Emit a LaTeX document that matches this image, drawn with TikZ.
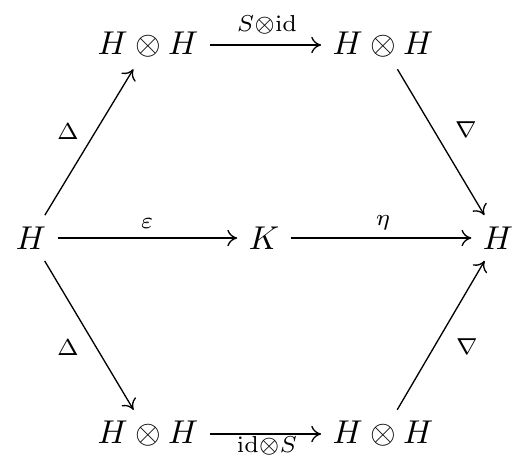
\documentclass[tikz,border=0pt]{standalone}
\usetikzlibrary{arrows.meta}
\begin{document}
\begin{tikzpicture}[x=0.303pt,y=-0.303pt,
  obj/.style={inner sep=3.3pt},
  arr/.style={draw,line width=0.4pt,-{Computer Modern Rightarrow[length=3pt,width=5pt]}},
  lab/.style={inner sep=0pt}]
\useasboundingbox (0,0) rectangle (526,465);
\node[obj] (L)  at (31,238)  {$H$};
\node[obj] (K)  at (264,238) {$K$};
\node[obj] (R)  at (498,238) {$H$};
\node[obj] (TL) at (148,45)  {$H\otimes H$};
\node[obj] (TR) at (383,45)  {$H\otimes H$};
\node[obj] (BL) at (148,434) {$H\otimes H$};
\node[obj] (BR) at (383,434) {$H\otimes H$};
\path[arr] (TL) -- (TR);
\path[arr] (BL) -- (BR);
\path[arr] (L) -- (K);
\path[arr] (K) -- (R);
\path[arr] (L) -- (TL);
\path[arr] (TR) -- (R);
\path[arr] (L) -- (BL);
\path[arr] (BR) -- (R);
\node[lab] (l1) at (267,25)  {$\scriptstyle S\otimes\mathrm{id}$};
\node[lab] (l2) at (267,446) {$\scriptstyle \mathrm{id}\otimes S$};
\node[lab] (l3) at (147,224) {$\scriptstyle \varepsilon$};
\node[lab] (l4) at (383,223) {$\scriptstyle \eta$};
\node[lab] (l5) at (68,132)  {$\scriptstyle \Delta$};
\node[lab] (l6) at (68,348)  {$\scriptstyle \Delta$};
\node[lab] (l7) at (466,130) {$\scriptstyle \nabla$};
\node[lab] (l8) at (467,347) {$\scriptstyle \nabla$};
\end{tikzpicture}
\end{document}
